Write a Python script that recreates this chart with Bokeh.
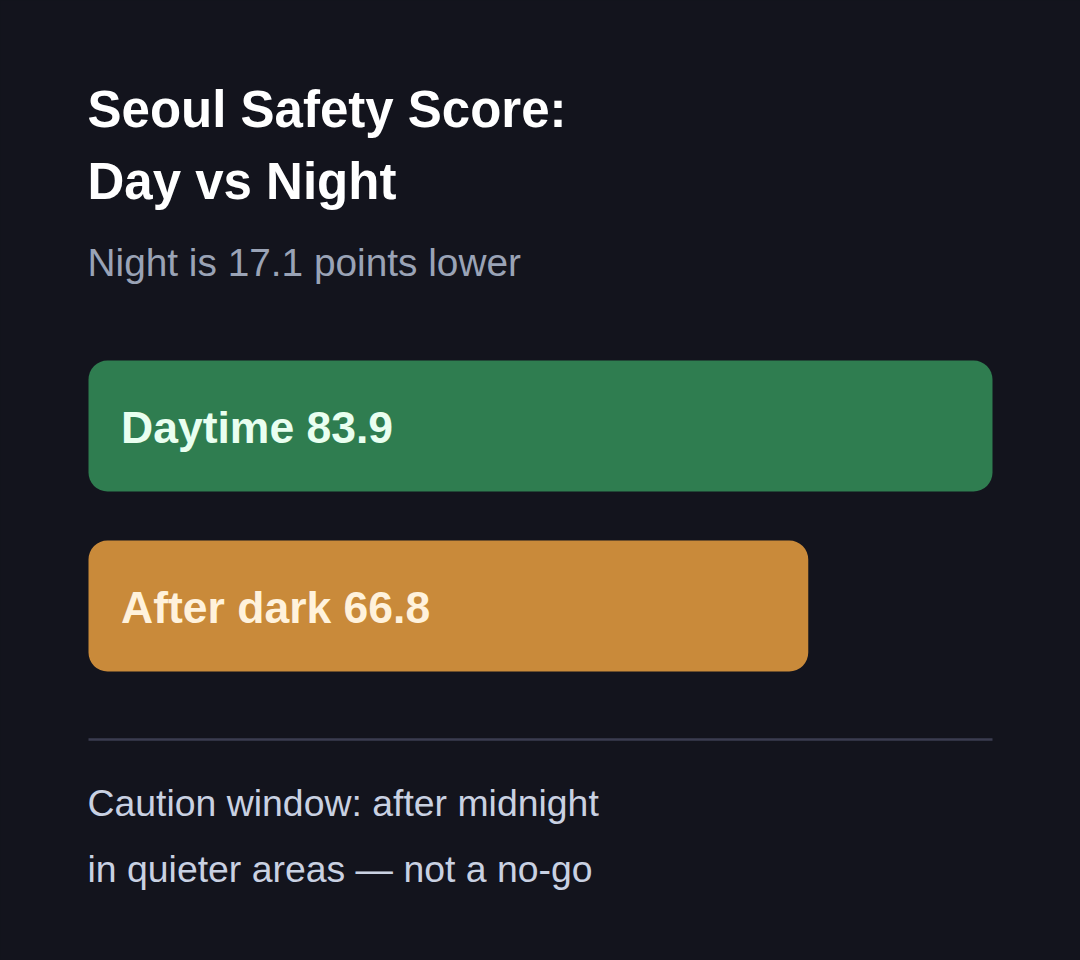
from bokeh.plotting import figure
from bokeh.models import Range1d, Label, ColumnDataSource
from bokeh.embed import file_html
from bokeh.resources import INLINE
from bokeh.core.properties import value

# ---- data ----
categories = ["Daytime", "After dark"]
scores = [83.9, 66.8]
bar_colors = ["#2f7d50", "#c98a3a"]
label_colors = ["#e9fff0", "#fff2dc"]
title_lines = ["Seoul Safety Score:", "Day vs Night"]
subtitle = "Night is 17.1 points lower"
footer_lines = ["Caution window: after midnight", "in quieter areas \u2014 not a no-go"]

BG = "#13141d"
FONT = "Liberation Sans"
W, H = 1080, 960
LEFT = 88
BAR_W_PX = 904
scale = BAR_W_PX / max(scores)

p = figure(width=W, height=H, output_backend="svg", toolbar_location=None,
           x_range=Range1d(-LEFT / scale, (W - LEFT) / scale),
           y_range=Range1d(H, 0), min_border=0)
p.axis.visible = False
p.grid.visible = False
p.outline_line_color = None
p.background_fill_color = BG
p.border_fill_color = BG

# bars
centers = [425.5, 605.5]
src = ColumnDataSource(dict(y=centers, right=scores, color=bar_colors,
                            label=[f"{c} {s}" for c, s in zip(categories, scores)],
                            tcolor=label_colors,
                            ty=[c + 1.5 for c in centers]))
p.hbar(y="y", left=0, right="right", height=131, fill_color="color",
       line_color=None, border_radius=19, source=src)
p.text(x=0, y="ty", text="label", x_offset=32.5, text_color="tcolor",
       text_font=value(FONT), text_font_style="bold", text_font_size="44.5px",
       text_baseline="alphabetic", source=src)

# title / subtitle
TX = LEFT - 1
for txt, yy in zip(title_lines, [108.5, 180.5]):
    p.add_layout(Label(x=TX, y=yy, x_units="screen", y_units="data", text=txt,
                       text_font=FONT, text_font_style="bold", text_font_size="51px",
                       text_color="#ffffff", text_baseline="alphabetic"))
p.add_layout(Label(x=TX, y=261.5, x_units="screen", y_units="data", text=subtitle,
                   text_font=FONT, text_font_size="38.8px", text_color="#9aa3b6",
                   text_baseline="alphabetic"))

# divider
p.segment(x0=0, x1=max(scores), y0=739, y1=739, line_color="#3b3c50", line_width=2.5)

# footer
for txt, yy in zip(footer_lines, [802.5, 868.5]):
    p.add_layout(Label(x=TX, y=yy, x_units="screen", y_units="data", text=txt,
                       text_font=FONT, text_font_size="37.4px", text_color="#c9d1e2",
                       text_baseline="alphabetic"))

html = file_html(p, INLINE)
html = html.replace("<head>", "<head><style>html,body{background:%s;margin:0 !important;padding:0;overflow:hidden}</style>" % BG, 1)
open("out.html", "w").write(html)
